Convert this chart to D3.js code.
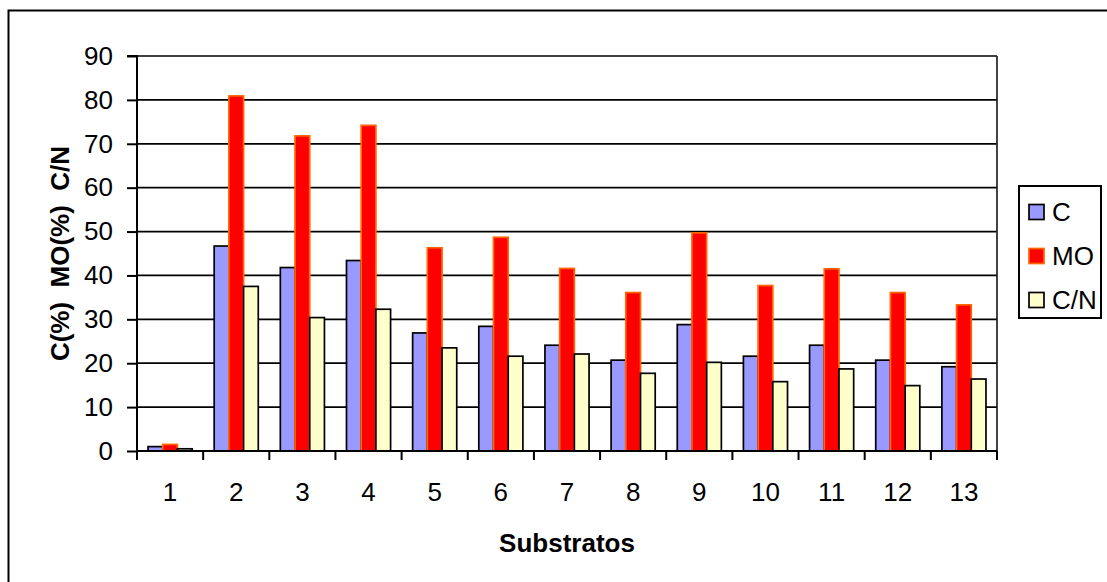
<!DOCTYPE html>
<html>
<head>
<meta charset="utf-8">
<script src="https://cdn.jsdelivr.net/npm/d3@7"></script>
<style>
  html, body { margin: 0; padding: 0; background: #fff; }
  svg { display: block; font-family: "Liberation Sans", Arial, sans-serif; }
</style>
</head>
<body>
<svg id="chart" width="1107" height="582"></svg>
<script>
const categories = ["1","2","3","4","5","6","7","8","9","10","11","12","13"];
const seriesNames = ["C", "MO", "C/N"];
const valuesC  = [1.0, 46.7, 41.8, 43.4, 26.9, 28.4, 24.1, 20.7, 28.8, 21.6, 24.1, 20.7, 19.2];
const valuesMO = [1.5, 80.9, 71.8, 74.2, 46.3, 48.7, 41.6, 36.1, 49.7, 37.7, 41.5, 36.1, 33.3];
const valuesCN = [0.5, 37.5, 30.4, 32.3, 23.5, 21.6, 22.1, 17.7, 20.2, 15.8, 18.7, 14.9, 16.4];
const yTicks = [0, 10, 20, 30, 40, 50, 60, 70, 80, 90];
const yTitle = "C(%)  MO(%)  C/N";
const xTitle = "Substratos";

const seriesValues = [valuesC, valuesMO, valuesCN];
const fills = ["#9999FF", "#FF0000", "#FFFFCC"];
const strokes = ["#000000", "#FF6600", "#000000"];
const FS = 26;

const svg = d3.select("#chart");
const pL = 137, pR = 997, pT = 56, pB = 451;

// outer chart border
svg.append("rect").attr("x", 8.5).attr("y", 10.5).attr("width", 1120).attr("height", 600)
  .attr("fill", "none").attr("stroke", "#000").attr("stroke-width", 2);

const x0 = d3.scaleBand().domain(categories).range([pL, pR]).padding(0);
const x1 = d3.scaleBand().domain(seriesNames).range([0, x0.bandwidth()]).paddingInner(0).paddingOuter(0.75);
const y = d3.scaleLinear().domain([0, 90]).range([pB, pT]);

// gridlines
svg.append("g").selectAll("line").data(yTicks.filter(t => t > 0)).join("line")
  .attr("x1", pL).attr("x2", pR)
  .attr("y1", d => y(d)).attr("y2", d => y(d))
  .attr("stroke", "#000").attr("stroke-width", 1.7);

// right border of plot
svg.append("line").attr("x1", pR).attr("x2", pR).attr("y1", pT).attr("y2", pB)
  .attr("stroke", "#222").attr("stroke-width", 1.7);

// bars
const data = [];
categories.forEach((c, i) => {
  seriesNames.forEach((s, j) => data.push({cat: c, s, j, v: seriesValues[j][i]}));
});
svg.append("g").selectAll("rect").data(data).join("rect")
  .attr("x", d => x0(d.cat) + x1(d.s))
  .attr("y", d => y(d.v))
  .attr("width", x1.bandwidth())
  .attr("height", d => y(0) - y(d.v))
  .attr("fill", d => fills[d.j])
  .attr("stroke", d => strokes[d.j])
  .attr("stroke-width", 1.7);

// y axis
const yAxis = d3.axisLeft(y).tickValues(yTicks).tickSize(10).tickPadding(14);
const gy = svg.append("g").attr("transform", `translate(${pL},0)`).call(yAxis);
gy.select(".domain").attr("stroke", "#000").attr("stroke-width", 2).attr("d", `M-10,${pT}H0V${pB}`);
gy.selectAll(".tick line").attr("stroke", "#000").attr("stroke-width", 2);
gy.selectAll(".tick text").attr("font-size", FS).attr("fill", "#000")
  .attr("font-family", "'Liberation Sans', Arial, sans-serif");

// x axis
const xAxis = d3.axisBottom(x0).tickSize(0).tickPadding(32);
const gx = svg.append("g").attr("transform", `translate(0,${pB})`).call(xAxis);
gx.select(".domain").attr("stroke", "#000").attr("stroke-width", 2).attr("d", `M${pL},0H${pR}`);
gx.selectAll(".tick text").attr("font-size", FS).attr("fill", "#000")
  .attr("font-family", "'Liberation Sans', Arial, sans-serif");
// category boundary ticks
const bounds = categories.map(c => x0(c)).concat([pR]);
gx.append("g").selectAll("line").data(bounds).join("line")
  .attr("x1", d => d).attr("x2", d => d).attr("y1", 0).attr("y2", 9)
  .attr("stroke", "#000").attr("stroke-width", 2);

// axis titles
svg.append("text").attr("x", (pL + pR) / 2).attr("y", 552)
  .attr("text-anchor", "middle").attr("font-weight", "bold").attr("font-size", FS)
  .text(xTitle);
svg.append("text").attr("transform", `translate(69,${(pT + pB) / 2}) rotate(-90)`)
  .attr("text-anchor", "middle").attr("font-weight", "bold").attr("font-size", FS)
  .style("white-space", "pre")
  .text(yTitle);

// legend
const lg = svg.append("g");
lg.append("rect").attr("x", 1019).attr("y", 186).attr("width", 82).attr("height", 132)
  .attr("fill", "#fff").attr("stroke", "#000").attr("stroke-width", 2);
const ly = [212, 256, 300];
seriesNames.forEach((s, j) => {
  lg.append("rect").attr("x", 1029).attr("y", ly[j] - 7.5).attr("width", 15).attr("height", 15)
    .attr("fill", fills[j]).attr("stroke", strokes[j]).attr("stroke-width", 1.7);
  lg.append("text").attr("x", 1052).attr("y", ly[j]).attr("dy", "0.36em")
    .attr("font-size", FS).text(s);
});
</script>
</body>
</html>
